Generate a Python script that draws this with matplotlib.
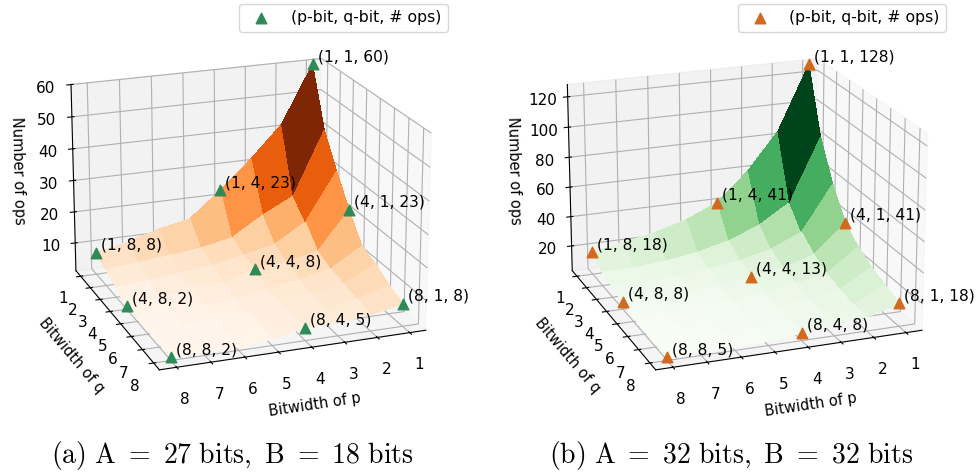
import matplotlib
matplotlib.use("Agg")
import matplotlib.pyplot as plt
import numpy as np

plt.rcParams['mathtext.fontset'] = 'cm'

bits = [1, 2, 3, 4, 5, 6, 7, 8]

ops_a = [
    [60, 42, 32, 23, 15, 13, 10, 8],
    [42, 22, 17, 11, 9, 8, 7, 6],
    [32, 17, 11, 9, 7, 6, 5, 4],
    [23, 11, 9, 8, 5, 5, 3, 2],
    [15, 9, 7, 5, 4, 3, 3, 2],
    [13, 8, 6, 5, 3, 3, 2, 2],
    [10, 7, 5, 5, 3, 2, 2, 2],
    [8, 6, 5, 5, 3, 2, 2, 2],
]
ops_b = [
    [128, 85, 60, 41, 32, 26, 22, 18],
    [85, 43, 30, 22, 17, 14, 12, 12],
    [60, 30, 21, 16, 13, 11, 10, 10],
    [41, 22, 16, 13, 10, 9, 8, 8],
    [32, 17, 13, 10, 8, 7, 6, 6],
    [26, 14, 11, 9, 7, 6, 6, 5],
    [22, 12, 10, 8, 6, 6, 5, 5],
    [18, 12, 10, 8, 6, 5, 5, 5],
]
marked_p = [1, 1, 1, 4, 4, 4, 8, 8, 8]
marked_q = [1, 4, 8, 1, 4, 8, 1, 4, 8]
zticks_a = [10, 20, 30, 40, 50, 60]
zticks_b = [20, 40, 60, 80, 100, 120]
caption_a = r"$\mathrm{(a)\ A\ =\ 27\ bits,\ B\ =\ 18\ bits}$"
caption_b = r"$\mathrm{(b)\ A\ =\ 32\ bits,\ B\ =\ 32\ bits}$"
legend_label = "(p-bit, q-bit, # ops)"

fig = plt.figure(figsize=(9.77, 4.74), dpi=100)


def panel(rect, ops, zticks, cmap, mcolor, zlim, caption, capx, legx):
    ax = fig.add_axes(rect, projection='3d', computed_zorder=False)
    ax.patch.set_alpha(0)
    X, Y = np.meshgrid(bits, bits)
    Z = np.array(ops, dtype=float)
    ax.plot_surface(X, Y, Z, cmap=cmap, rstride=1, cstride=1,
                    linewidth=0, antialiased=False, zorder=1)
    xs = [q for q in marked_q]
    ys = [p for p in marked_p]
    zs = [ops[p - 1][q - 1] for p, q in zip(marked_p, marked_q)]
    sc = ax.scatter(xs, ys, zs, marker='^', s=58, color=mcolor, depthshade=False,
                    zorder=5, label=legend_label)
    for p, q, x, y, z in zip(marked_p, marked_q, xs, ys, zs):
        ax.text(x, y, z, " (%d, %d, %d)" % (p, q, z), fontsize=11.2, zorder=6,
                va='bottom', ha='left')
    ax.view_init(elev=19.6, azim=69.5)
    ax.set_box_aspect((4, 4, 2.95))
    ax.set_xlim(0.5, 8.5)
    ax.set_ylim(0.5, 8.5)
    ax.set_zlim(*zlim)
    ax.set_xticks(bits)
    ax.set_yticks(bits)
    ax.set_zticks(zticks)
    ax.tick_params(labelsize=11, pad=1)
    ax.tick_params(axis='x', pad=5)
    ax.tick_params(axis='y', pad=3)
    ax.tick_params(axis='z', pad=4)
    ax.set_xlabel("Bitwidth of p", fontsize=10.5, labelpad=8)
    ax.set_ylabel("Bitwidth of q", fontsize=10.5, labelpad=6)
    ax.set_zlabel("Number of ops", fontsize=10.5, labelpad=6)
    fig.text(capx, 0.039, caption, fontsize=20, ha='center', va='center')
    fig.legend(handles=[sc], labels=[legend_label], loc='upper center',
               bbox_to_anchor=(legx, 1.008), fontsize=11.3, handletextpad=0.9,
               scatterpoints=1, borderpad=0.4)
    return ax


panel([0.002, 0.105, 0.486, 0.90], ops_a, zticks_a, 'Oranges', 'seagreen', (1, 60),
      caption_a, 0.238, 0.3516)
panel([0.51, 0.105, 0.486, 0.90], ops_b, zticks_b, 'Greens', 'chocolate', (3, 128),
      caption_b, 0.748, 0.8617)

fig.savefig("out.png", dpi=100)
